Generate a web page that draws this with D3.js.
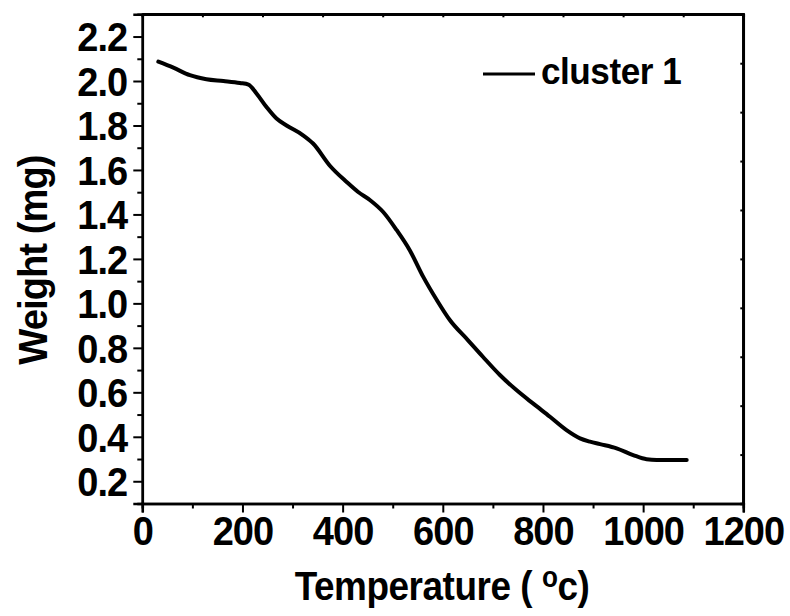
<!DOCTYPE html>
<html>
<head>
<meta charset="utf-8">
<script src="https://cdn.jsdelivr.net/npm/d3@7"></script>
<style>
  html, body { margin: 0; padding: 0; background: #fff; }
  svg { display: block; }
  text { font-family: "Liberation Sans", Arial, sans-serif; font-weight: bold; fill: #000; }
</style>
</head>
<body>
<div id="chart"></div>
<script>
// TGA trace: sample weight versus temperature
const temperature = [32, 62, 95, 128, 162, 195, 212, 228, 248, 268, 288, 321, 341, 375, 408, 431,
  455, 481, 508, 534, 561, 588, 614, 650, 680, 714, 747, 780, 814, 847, 874, 894, 914, 947,
  980, 1007, 1027, 1087];
const weight = [2.087, 2.06, 2.026, 2.008, 2.0, 1.991, 1.984, 1.944, 1.883, 1.831, 1.80, 1.756,
  1.719, 1.618, 1.546, 1.501, 1.464, 1.411, 1.329, 1.239, 1.119, 1.015, 0.925, 0.835, 0.76,
  0.678, 0.61, 0.55, 0.49, 0.43, 0.393, 0.378, 0.367, 0.348, 0.318, 0.299, 0.296, 0.296];

const xTicks = [0, 200, 400, 600, 800, 1000, 1200];
const xMinorTicks = [100, 300, 500, 700, 900, 1100];
const yTicks = [0.2, 0.4, 0.6, 0.8, 1.0, 1.2, 1.4, 1.6, 1.8, 2.0, 2.2];
const yMinorTicks = [0.3, 0.5, 0.7, 0.9, 1.1, 1.3, 1.5, 1.7, 1.9, 2.1];
const seriesName = "cluster 1";

const W = 790, H = 616;
const margin = { left: 142.3, right: 790 - 743.3, top: 14.3, bottom: 616 - 503.5 };
const pw = W - margin.left - margin.right;
const ph = H - margin.top - margin.bottom;

const svg = d3.select("#chart").append("svg").attr("width", W).attr("height", H);
const g = svg.append("g").attr("transform", `translate(${margin.left},${margin.top})`);

const x = d3.scaleLinear().domain([0, 1200]).range([0, pw]);
const y = d3.scaleLinear().domain([0.1, 2.3]).range([ph, 0]);

// slightly condensed bold type
const squeeze = 0.95;
const tickFont = 40;

// bottom axis: labelled majors + minor ticks
const xAxis = g.append("g").attr("transform", `translate(0,${ph})`)
  .call(d3.axisBottom(x).tickValues(xTicks).tickSize(9).tickPadding(4).tickFormat(d3.format("d")));
g.append("g").attr("transform", `translate(0,${ph})`)
  .call(d3.axisBottom(x).tickValues(xMinorTicks).tickSize(5).tickFormat(""));

// left axis: labelled majors + minor ticks
const yAxis = g.append("g")
  .call(d3.axisLeft(y).tickValues(yTicks).tickSize(9).tickPadding(5).tickFormat(d3.format(".1f")));
g.append("g")
  .call(d3.axisLeft(y).tickValues(yMinorTicks).tickSize(5).tickFormat(""));

// top and right frame edges with small inward ticks
const xFrame = d3.scaleLinear().domain([0, 10]).range([0, pw]);
const yFrame = d3.scaleLinear().domain([0, 10]).range([ph, 0]);
g.append("g")
  .call(d3.axisBottom(xFrame).tickValues(d3.range(1, 10)).tickSize(3).tickFormat(""));
g.append("g").attr("transform", `translate(${pw},0)`)
  .call(d3.axisLeft(yFrame).tickValues(d3.range(1, 10)).tickSize(3).tickFormat(""));
g.append("path")
  .attr("d", `M0,0H${pw}V${ph}`)
  .attr("fill", "none").attr("stroke", "#000").attr("stroke-width", 2.5);

g.selectAll(".domain").attr("stroke", "#000").attr("stroke-width", 2.5);
g.selectAll(".tick line").attr("stroke", "#000").attr("stroke-width", 2);
g.selectAll(".tick text")
  .style("font-size", tickFont + "px")
  .style("font-family", "'Liberation Sans', Arial, sans-serif")
  .style("font-weight", "bold")
  .style("letter-spacing", "-1px")
  .attr("fill", "#000");

xAxis.selectAll(".tick text")
  .attr("y", 13)
  .attr("transform", `scale(${squeeze},1)`);
yAxis.selectAll(".tick text")
  .attr("x", -15 / squeeze)
  .attr("dy", "0.36em")
  .attr("transform", `scale(${squeeze},1)`);

// weight curve
const line = d3.line()
  .x((d, i) => x(temperature[i]))
  .y((d, i) => y(weight[i]))
  .curve(d3.curveMonotoneX);
g.append("path")
  .datum(weight)
  .attr("d", line)
  .attr("fill", "none")
  .attr("stroke", "#000")
  .attr("stroke-width", 4)
  .attr("stroke-linejoin", "round")
  .attr("stroke-linecap", "round");

// legend
const legend = svg.append("g").attr("transform", "translate(483,74)");
legend.append("line").attr("x1", 0).attr("x2", 52).attr("y1", 0).attr("y2", 0)
  .attr("stroke", "#000").attr("stroke-width", 3);
legend.append("text")
  .attr("transform", `translate(58,10) scale(${squeeze},1)`)
  .style("font-size", "37px").style("letter-spacing", "-0.5px").text(seriesName);

// axis titles
svg.append("text")
  .attr("transform", "translate(47,260) rotate(-90) scale(0.93,1)")
  .attr("text-anchor", "middle")
  .style("font-size", "41px").style("letter-spacing", "-1px")
  .text("Weight (mg)");

const xt = svg.append("text")
  .attr("transform", "translate(442,600) scale(0.9,1)")
  .attr("text-anchor", "middle")
  .style("font-size", "41px").style("letter-spacing", "-0.5px");
xt.append("tspan").text("Temperature ( ");
xt.append("tspan").attr("dy", -13).style("font-size", "29px").text("o");
xt.append("tspan").attr("dy", 13).text("c)");
</script>
</body>
</html>
